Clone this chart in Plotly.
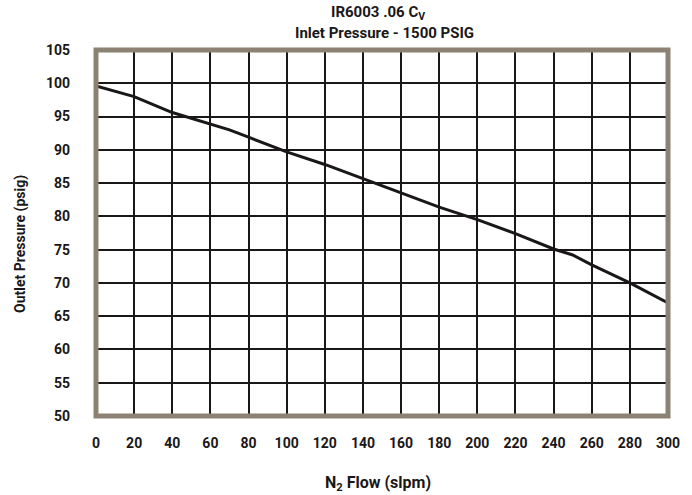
import plotly.graph_objects as go

flow = [0, 20, 40, 60, 70, 80, 100, 120, 140, 160, 180, 200, 220, 240, 250, 260, 280, 300]
outlet = [99.6, 98.0, 95.6, 93.9, 93.0, 91.9, 89.7, 87.8, 85.7, 83.5, 81.4, 79.5, 77.4, 75.1, 74.2, 72.7, 70.0, 67.0]

x_ticks = list(range(0, 301, 20))
y_ticks = list(range(50, 106, 5))

title_lines = ["IR6003 .06 C<sub>V</sub>", "Inlet Pressure - 1500 PSIG"]
x_title = "N<sub>2</sub> Flow (slpm)"
y_title = "Outlet Pressure (psig)"

FONT = "Roboto"
INK = "#1a1718"
BORDER = "#8c8273"
W, H = 692, 495
L, R, T, B = 96, 24, 50, 79

fig = go.Figure()
fig.add_trace(go.Scatter(x=flow, y=outlet, mode="lines",
                         line=dict(color=INK, width=3), hoverinfo="skip"))

tf = dict(family=FONT, size=14, color=INK, weight="bold")
ttl = dict(family=FONT, size=15, color=INK, weight="bold")
xtl = dict(family=FONT, size=16, color=INK, weight="bold")

def px_x(p):
    return (p - L) / (W - L - R)

def px_y(p):
    return (H - B - p) / (H - T - B)

fig.update_layout(
    width=W, height=H,
    margin=dict(l=L, r=R, t=T, b=B, autoexpand=False),
    paper_bgcolor="white", plot_bgcolor="white",
    showlegend=False,
    font=tf,
    xaxis=dict(range=[0, 300], tickvals=x_ticks, ticktext=[str(v) for v in x_ticks],
               showgrid=True, gridcolor=INK, gridwidth=1.6, automargin=False,
               zeroline=False, showline=False, ticks="", ticklabelstandoff=17,
               tickfont=tf),
    yaxis=dict(range=[50, 105], tickvals=y_ticks, ticktext=[str(v) for v in y_ticks],
               showgrid=True, gridcolor=INK, gridwidth=1.6, automargin=False,
               zeroline=False, showline=False, ticks="", ticklabelstandoff=25,
               tickfont=tf),
    shapes=[dict(type="rect", xref="paper", yref="paper", x0=0, x1=1, y0=0, y1=1,
                 line=dict(color=BORDER, width=5), layer="above")],
    annotations=[
        dict(text=title_lines[0], xref="paper", yref="paper", x=px_x(378), y=px_y(13),
             xanchor="center", yanchor="middle", showarrow=False, font=ttl),
        dict(text=title_lines[1], xref="paper", yref="paper", x=px_x(384), y=px_y(33),
             xanchor="center", yanchor="middle", showarrow=False, font=ttl),
        dict(text=x_title, xref="paper", yref="paper", x=px_x(378), y=px_y(483),
             xanchor="center", yanchor="middle", showarrow=False, font=xtl),
        dict(text=y_title, xref="paper", yref="paper", x=px_x(21), y=px_y(244),
             xanchor="center", yanchor="middle", showarrow=False, font=tf, textangle=-90),
    ],
)

fig.write_html("out.html", config={"displayModeBar": False},
               post_script="document.body.style.margin='0px';")
